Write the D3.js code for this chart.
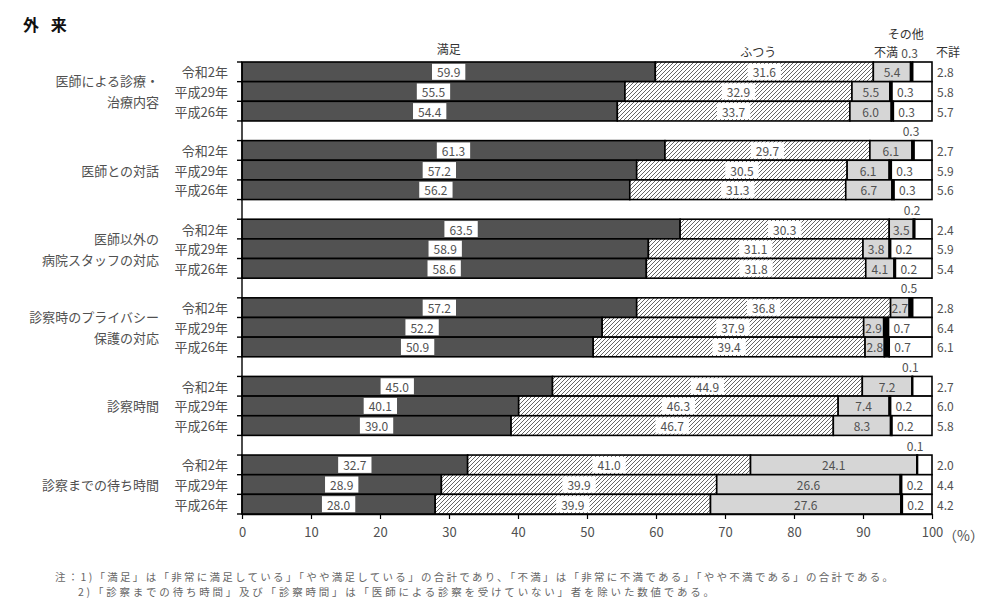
<!DOCTYPE html>
<html><head><meta charset="utf-8">
<script src="https://cdn.jsdelivr.net/npm/d3@7/dist/d3.min.js"></script>
<style>
body{margin:0;background:#fff;}
text{font-family:"Noto Sans CJK JP","Noto Sans",sans-serif;}
</style></head>
<body><svg id="chart" width="1000" height="602"></svg>
<script>
// ---- data ----
const groupLabels = [["医師による診療・","治療内容"],["医師との対話"],["医師以外の","病院スタッフの対応"],["診察時のプライバシー","保護の対応"],["診察時間"],["診察までの待ち時間"]];
const years = ["令和2年","平成29年","平成26年"];
const seriesNames = ["満足","ふつう","不満","その他","不詳"];
const manzoku = [59.9,55.5,54.4, 61.3,57.2,56.2, 63.5,58.9,58.6, 57.2,52.2,50.9, 45.0,40.1,39.0, 32.7,28.9,28.0];
const futsuu  = [31.6,32.9,33.7, 29.7,30.5,31.3, 30.3,31.1,31.8, 36.8,37.9,39.4, 44.9,46.3,46.7, 41.0,39.9,39.9];
const fuman   = [5.4,5.5,6.0, 6.1,6.1,6.7, 3.5,3.8,4.1, 2.7,2.9,2.8, 7.2,7.4,8.3, 24.1,26.6,27.6];
const sonota  = [0.3,0.3,0.3, 0.3,0.3,0.3, 0.2,0.2,0.2, 0.5,0.7,0.7, 0.1,0.2,0.2, 0.1,0.2,0.2];
const fusho   = [2.8,5.8,5.7, 2.7,5.9,5.6, 2.4,5.9,5.4, 2.8,6.4,6.1, 2.7,6.0,5.8, 2.0,4.4,4.2];
const xTicks = [0,10,20,30,40,50,60,70,80,90,100];
const notes = ["注：1)「満足」は「非常に満足している」「やや満足している」の合計であり、「不満」は「非常に不満である」「やや不満である」の合計である。",
               "2)「診察までの待ち時間」及び「診察時間」は「医師による診察を受けていない」者を除いた数値である。"];

const values = [manzoku, futsuu, fuman, sonota, fusho];
const svg = d3.select("#chart");
const x = d3.scaleLinear().domain([0,100]).range([242,932]);
const nSlots = groupLabels.length*4 - 1;
const y = d3.scaleBand().domain(d3.range(nSlots)).range([62,514]).padding(0);
const fills = ["#525252","url(#hatch)","#d6d6d6","#000","#fff"];
const txtCol = "#505050";

const defs = svg.append("defs");
const pat = defs.append("pattern").attr("id","hatch").attr("patternUnits","userSpaceOnUse").attr("width",4).attr("height",4);
pat.append("rect").attr("width",4).attr("height",4).attr("fill","#fff");
pat.append("path").attr("d","M-1,1 L1,-1 M0,4 L4,0 M3,5 L5,3").attr("stroke","#555").attr("stroke-width",0.9);

// title
svg.append("text").attr("x",23).attr("y",31).attr("font-size",16).attr("font-weight","bold").attr("fill","#111")
  .attr("letter-spacing",4).text("外 来");

// rows
const rows = [];
groupLabels.forEach((g,gi)=>{
  years.forEach((yr,ri)=>{
    const idx = gi*3+ri;
    let cum = 0;
    const segs = values.map((arr,si)=>{
      const s = {si, v:arr[idx], x0:cum, x1:Math.min(100,cum+arr[idx])};
      cum += arr[idx];
      if(si===4) s.x1 = 100;
      return s;
    });
    rows.push({gi,ri,idx,slot:gi*4+ri,yr,segs});
  });
});

const bars = svg.append("g");
rows.forEach(r=>{
  const yy = y(r.slot), h = y.bandwidth();
  r.segs.forEach(s=>{
    bars.append("rect").attr("x",x(s.x0)).attr("y",yy).attr("width",Math.max(0,x(s.x1)-x(s.x0))).attr("height",h)
      .attr("fill",fills[s.si]).attr("stroke","#000").attr("stroke-width",1.6);
  });
});

// labels
const lab = svg.append("g").attr("font-size",12).attr("fill",txtCol);
function boxLabel(cx,cy,txt){
  const t = lab.append("text").attr("x",cx).attr("y",cy).attr("text-anchor","middle").attr("dominant-baseline","central").text(txt);
  const w = t.node().getComputedTextLength();
  lab.insert("rect","text:last-child").attr("x",cx-w/2-5).attr("y",cy-8).attr("width",w+10).attr("height",16).attr("fill","#fff");
  t.raise();
}
rows.forEach(r=>{
  const cy = y(r.slot)+y.bandwidth()/2;
  const [m,f,u,o,n] = r.segs;
  boxLabel((x(m.x0)+x(m.x1))/2, cy, m.v.toFixed(1));
  boxLabel((x(f.x0)+x(f.x1))/2, cy, f.v.toFixed(1));
  lab.append("text").attr("x",(x(u.x0)+x(u.x1))/2).attr("y",cy).attr("text-anchor","middle").attr("dominant-baseline","central").text(u.v.toFixed(1));
  if(r.ri===0){
    lab.append("text").attr("x",(x(o.x0)+x(o.x1))/2 - 2).attr("y",y(r.slot)-10).attr("text-anchor","middle").attr("dominant-baseline","central").text(o.v.toFixed(1));
  } else {
    lab.append("text").attr("x",x(o.x1)+5).attr("y",cy).attr("dominant-baseline","central").text(o.v.toFixed(1));
  }
  lab.append("text").attr("x",x(100)+5).attr("y",cy).attr("dominant-baseline","central").text(n.v.toFixed(1));
  // year labels
  svg.append("text").attr("x",228).attr("y",cy).attr("text-anchor","end").attr("dominant-baseline","central")
    .attr("font-size",13).attr("fill",txtCol).text(r.yr);
});

// group labels
groupLabels.forEach((g,gi)=>{
  const cy = y(gi*4+1)+y.bandwidth()/2;
  const lh = 21;
  g.forEach((line,li)=>{
    svg.append("text").attr("x",159).attr("y",cy+(li-(g.length-1)/2)*lh).attr("text-anchor","end").attr("dominant-baseline","central")
      .attr("font-size",13).attr("fill",txtCol).text(line);
  });
});

// legend (series names above first row)
const first = rows[0];
const leg = svg.append("g").attr("font-size",12).attr("fill","#333").attr("text-anchor","middle");
const fs = first.segs;
leg.append("text").attr("x",(x(fs[0].x0)+x(fs[0].x1))/2).attr("y",48).attr("dominant-baseline","central").text(seriesNames[0]);
leg.append("text").attr("x",(x(fs[1].x0)+x(fs[1].x1))/2-6).attr("y",51).attr("dominant-baseline","central").text(seriesNames[1]);
leg.append("text").attr("x",(x(fs[2].x0)+x(fs[2].x1))/2-6).attr("y",51).attr("dominant-baseline","central").text(seriesNames[2]);
leg.append("text").attr("x",(x(fs[3].x0)+x(fs[3].x1))/2-6).attr("y",33).attr("dominant-baseline","central").text(seriesNames[3]);
leg.append("text").attr("x",x(100)+16).attr("y",51).attr("dominant-baseline","central").text(seriesNames[4]);

// left axis with ticks at slot boundaries
const ax = svg.append("g").attr("stroke","#000").attr("stroke-width",1.4);
const yTop = y.range()[0], yBot = y.range()[1];
ax.append("line").attr("x1",x(0)).attr("x2",x(0)).attr("y1",yTop).attr("y2",yBot);
d3.range(nSlots+1).forEach(i=>{
  const yy = i<nSlots ? y(i) : yBot;
  ax.append("line").attr("x1",x(0)-5).attr("x2",x(0)).attr("y1",yy).attr("y2",yy);
});

// bottom axis
const xa = svg.append("g").attr("transform",`translate(0,${yBot})`)
  .call(d3.axisBottom(x).tickValues(xTicks).tickSize(5).tickSizeOuter(0).tickPadding(9));
xa.select(".domain").attr("stroke","#000").attr("stroke-width",1.4);
xa.selectAll(".tick line").attr("stroke","#000").attr("stroke-width",1.2);
xa.selectAll(".tick text").attr("font-size",13).attr("fill",txtCol).attr("font-family",'"Noto Sans CJK JP",sans-serif');
svg.append("text").attr("x",943).attr("y",535).attr("font-size",14).attr("fill",txtCol).attr("dominant-baseline","central").text("（%）");

// notes
svg.append("text").attr("x",55).attr("y",576).attr("font-size",10.5).attr("fill","#666").attr("dominant-baseline","central")
  .attr("textLength",838).attr("lengthAdjust","spacing").text(notes[0]);
svg.append("text").attr("x",78).attr("y",591).attr("font-size",10.5).attr("fill","#666").attr("dominant-baseline","central")
  .attr("textLength",636).attr("lengthAdjust","spacing").text(notes[1]);
</script></body></html>
